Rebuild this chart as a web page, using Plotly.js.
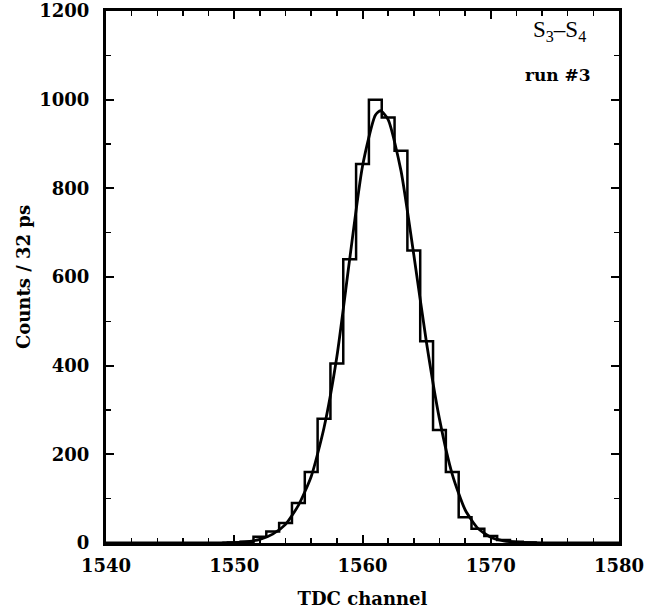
<!DOCTYPE html>
<html>
<head>
<meta charset="utf-8">
<script src="https://cdn.plot.ly/plotly-3.0.1.min.js"></script>
<style>html,body{margin:0;padding:0;background:#fff;}#chart{width:650px;height:616px;}</style>
</head>
<body>
<div id="chart"></div>
<script>
// Histogram: bin centres (TDC channel) and counts
const binCenters = [1550, 1551, 1552, 1553, 1554, 1555, 1556, 1557, 1558, 1559, 1560, 1561, 1562, 1563, 1564, 1565, 1566, 1567, 1568, 1569, 1570, 1571, 1572, 1573];
const binCounts  = [1, 3, 14, 26, 45, 90, 160, 280, 405, 640, 855, 1000, 960, 885, 660, 455, 255, 160, 58, 32, 16, 7, 3, 1];

// Fitted curve
const fitX = [1540, 1546, 1549, 1550, 1551, 1552, 1553, 1554, 1555, 1556, 1557, 1558, 1559, 1560, 1561, 1561.4, 1562, 1563, 1564, 1565, 1566, 1567, 1568, 1569, 1570, 1571, 1572, 1574, 1577, 1580];
const fitY = [0, 0, 0.5, 1, 3, 8, 20, 42, 85, 150, 260, 420, 640, 850, 965, 975, 955, 840, 650, 450, 280, 155, 75, 33, 13, 5, 2, 0.5, 0, 0];

const xTicks = [1540, 1550, 1560, 1570, 1580];
const yTicks = [0, 200, 400, 600, 800, 1000, 1200];

// step outline from bin edges
const half = 0.5;
const stepX = binCenters.map(c => c - half);
stepX.push(binCenters[binCenters.length - 1] + half);
const stepY = binCounts.slice();
stepY.push(binCounts[binCounts.length - 1]);
stepX.unshift(binCenters[0] - half); stepY.unshift(0);
stepX.push(binCenters[binCenters.length - 1] + half); stepY.push(0);

const tickFont = {family: 'DejaVu Serif', size: 18, color: '#000', weight: 'bold'};

const traces = [
  {x: stepX, y: stepY, type: 'scatter', mode: 'lines', line: {shape: 'hv', color: '#000', width: 2.5}, hoverinfo: 'skip'},
  {x: fitX, y: fitY, type: 'scatter', mode: 'lines', line: {shape: 'spline', smoothing: 0.6, color: '#000', width: 2.8}, hoverinfo: 'skip'}
];

const axisCommon = {
  showgrid: false, zeroline: false, showline: true, linecolor: '#000', linewidth: 3,
  mirror: 'ticks', ticks: 'inside', ticklen: 8, tickwidth: 2, tickcolor: '#000',
  tickfont: tickFont
};

const layout = {
  width: 650, height: 616,
  margin: {l: 106, r: 31, t: 11, b: 73},
  paper_bgcolor: '#fff', plot_bgcolor: '#fff',
  showlegend: false,
  xaxis: Object.assign({}, axisCommon, {
    range: [1540, 1580], tickvals: xTicks, ticktext: xTicks.map(String),
    ticklabelstandoff: 4,
    minor: {dtick: 2, tick0: 1540, ticks: 'inside', ticklen: 5, tickwidth: 1.5, tickcolor: '#000'},
    title: {text: 'TDC channel', font: tickFont, standoff: 18}
  }),
  yaxis: Object.assign({}, axisCommon, {
    range: [0, 1200], tickvals: yTicks, ticktext: yTicks.map(String),
    ticklabelstandoff: 10,
    minor: {dtick: 100, tick0: 0, ticks: 'inside', ticklen: 5, tickwidth: 1.5, tickcolor: '#000'},
    title: {text: 'Counts / 32 ps', font: tickFont, standoff: 4}
  }),
  annotations: [
    {xref: 'paper', yref: 'paper', x: 0.94, y: 0.962, xanchor: 'right', yanchor: 'middle', showarrow: false,
     text: 'S<sub>3</sub>\u2013S<sub>4</sub>', font: {family: 'Liberation Serif', size: 23, color: '#000'}},
    {xref: 'paper', yref: 'paper', x: 0.95, y: 0.88, xanchor: 'right', yanchor: 'middle', showarrow: false,
     text: 'run #3', font: {family: 'DejaVu Serif', size: 17, color: '#000', weight: 'bold'}}
  ]
};

Plotly.newPlot('chart', traces, layout, {staticPlot: true, displayModeBar: false});
</script>
</body>
</html>
